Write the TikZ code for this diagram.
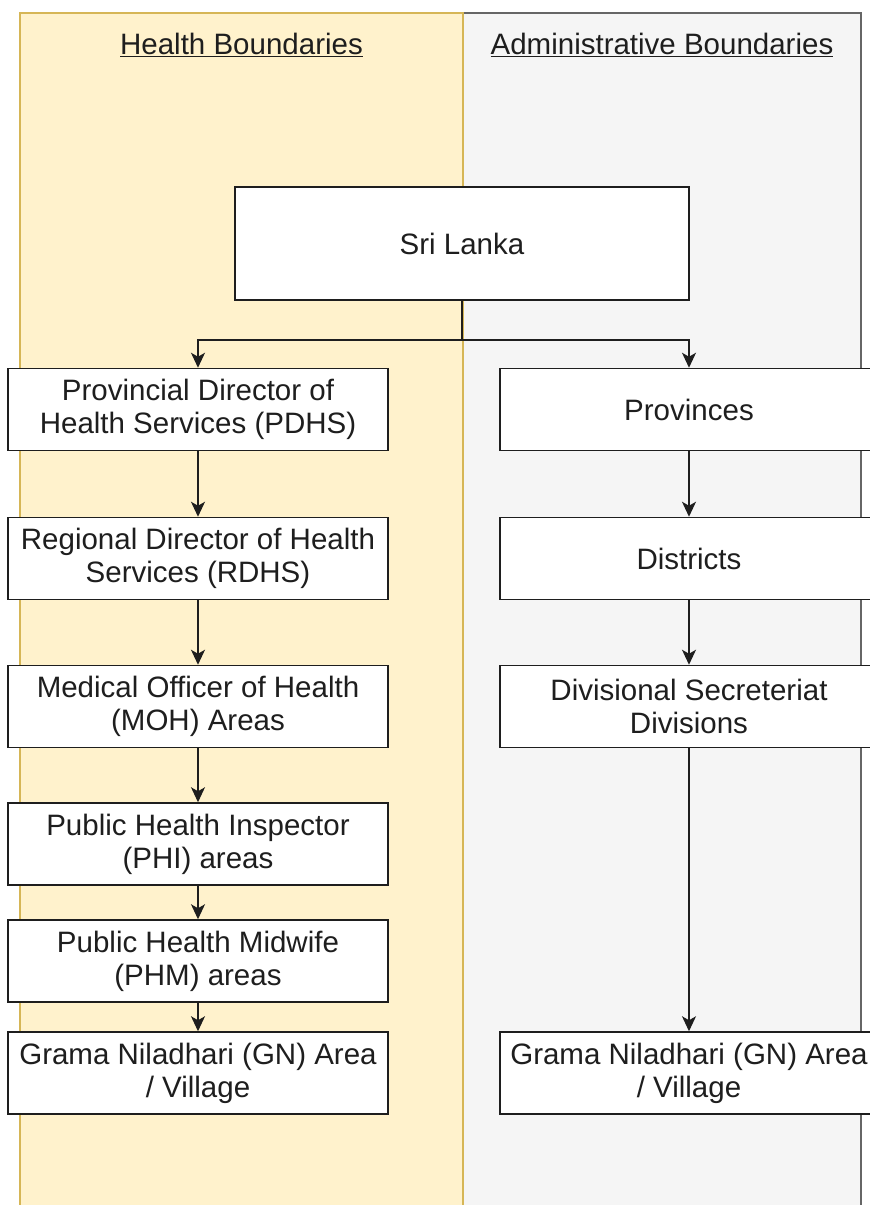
\documentclass[tikz,border=0pt]{standalone}
\usepackage{fontspec}
\setmainfont{Liberation Sans}
\usetikzlibrary{arrows.meta}

\definecolor{healthfill}{HTML}{FFF2CC}
\definecolor{healthline}{HTML}{D6B656}
\definecolor{adminfill}{HTML}{F5F5F5}
\definecolor{adminline}{HTML}{666666}
\definecolor{ink}{HTML}{1E1E1E}

\tikzset{
  unit/.style={draw=ink, line width=1.5pt, fill=white, text=ink, align=center,
    inner sep=0pt, font=\fontsize{29.5}{33}\selectfont},
  leftunit/.style={unit, minimum width=380pt, minimum height=82pt},
  rightunit/.style={unit, minimum width=378pt, minimum height=82pt},
  lanehead/.style={text=ink, font=\fontsize{29.5}{33}\selectfont},
  link/.style={draw=ink, line width=1.5pt, -{Stealth[length=15pt,width=14pt,inset=4pt]}}
}

\begin{document}
\begin{tikzpicture}[x=1pt,y=-1pt]
  \clip (0,0) rectangle (870,1205);
  \fill[white] (0,0) rectangle (870,1205);

  %% lanes
  \draw[fill=adminfill, draw=adminline, line width=1.5pt] (463,13) rectangle (861,1230);
  \draw[fill=healthfill, draw=healthline, line width=1.5pt] (20,13) rectangle (463,1230);
  \node[lanehead] (hhead) at (241.5,45) {\underline{Health Boundaries}};
  \node[lanehead] (ahead) at (662,45) {\underline{Administrative Boundaries}};

  %% top
  \node[unit, minimum width=454pt, minimum height=113pt] (lanka) at (462,243.5) {Sri Lanka};

  %% health side
  \node[leftunit] (pdhs) at (198,409.5) {Provincial Director of\\Health Services (PDHS)};
  \node[leftunit] (rdhs) at (198,558.5) {Regional Director of Health\\Services (RDHS)};
  \node[leftunit] (moh)  at (198,706.5) {Medical Officer of Health\\(MOH) Areas};
  \node[leftunit] (phi)  at (198,844)   {Public Health Inspector\\(PHI) areas};
  \node[leftunit] (phm)  at (198,961)   {Public Health Midwife\\(PHM) areas};
  \node[leftunit] (gnh)  at (198,1073)  {Grama Niladhari (GN) Area\\/ Village};

  %% administrative side
  \node[rightunit] (prov) at (689,409.5) {Provinces};
  \node[rightunit] (dist) at (689,558.5) {Districts};
  \node[rightunit] (dsd)  at (689,706.5) {Divisional Secreteriat\\Divisions};
  \node[rightunit] (gna)  at (689,1073)  {Grama Niladhari (GN) Area\\/ Village};

  %% connectors
  \coordinate (split) at (462,340);
  \draw[draw=ink, line width=1.5pt] (lanka.south) -- (split);
  \draw[link] (split) -| (pdhs.north);
  \draw[link] (split) -| (prov.north);
  \draw[link] (pdhs) -- (rdhs);
  \draw[link] (rdhs) -- (moh);
  \draw[link] (moh) -- (phi);
  \draw[link] (phi) -- (phm);
  \draw[link] (phm) -- (gnh);
  \draw[link] (prov) -- (dist);
  \draw[link] (dist) -- (dsd);
  \draw[link] (dsd) -- (gna);
\end{tikzpicture}
\end{document}
